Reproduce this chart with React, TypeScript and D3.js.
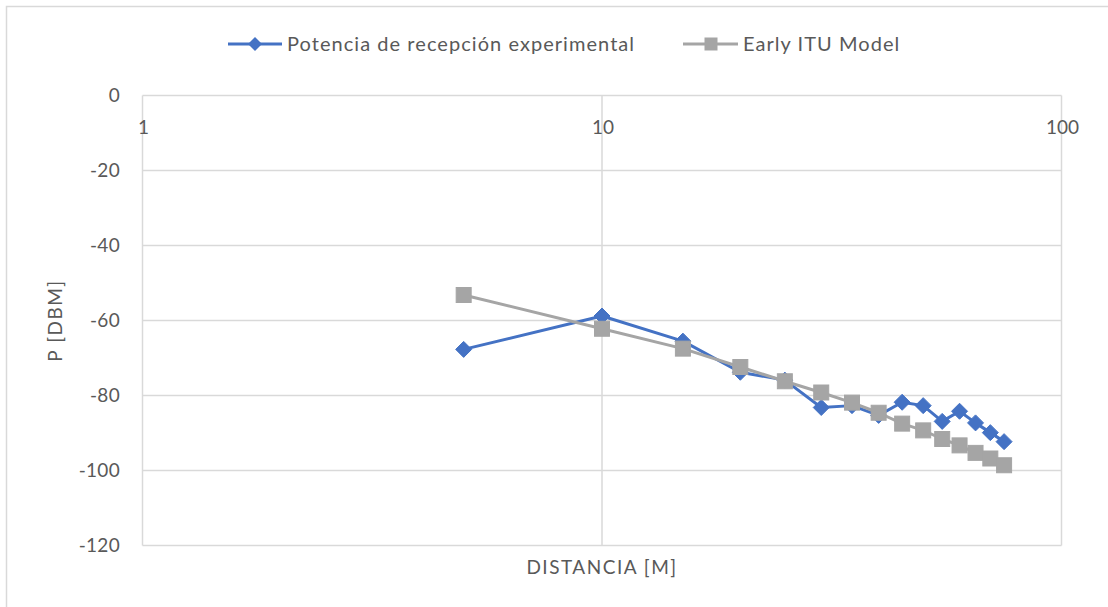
import React from 'react';
import * as d3 from 'd3';

// distances in metres
const distances = [5, 10, 15, 20, 25, 30, 35, 40, 45, 50, 55, 60, 65, 70, 75];
// measured received power (dBm)
const experimental = [-67.7, -58.8, -65.5, -73.8, -75.9, -83.2, -82.7, -85.3, -81.8, -82.7, -86.9, -84.2, -87.3, -89.9, -92.3];
// Early ITU Model prediction (dBm)
const earlyItu = [-53.2, -62.2, -67.5, -72.4, -76.2, -79.2, -81.9, -84.6, -87.5, -89.3, -91.6, -93.3, -95.3, -96.8, -98.6];

const xTicks = [1, 10, 100];
const yTicks = [0, -20, -40, -60, -80, -100, -120];

const seriesNames = ['Potencia de recepción experimental', 'Early ITU Model'];
const xTitle = 'DISTANCIA [M]';
const yTitle = 'P [DBM]';

const W = 1108;
const H = 607;
const FONT = 'Lato, "Liberation Sans", sans-serif';
const TEXT = '#595959';
const GRID = '#D9D9D9';
const BLUE = '#4472C4';
const GRAY = '#A5A5A5';

const App = () => {
  const x = d3.scaleLog().domain([1, 100]).range([142.5, 1061.5]);
  const y = d3.scaleLinear().domain([-120, 0]).range([545.5, 95.5]);

  const line = d3.line<number>()
    .x((_, i) => x(distances[i]))
    .y(d => y(d));

  const diamond = (cx: number, cy: number, r: number) =>
    `M${cx},${cy - r}L${cx + r},${cy}L${cx},${cy + r}L${cx - r},${cy}Z`;

  return (
    <svg width={W} height={H} style={{ position: 'absolute', left: 0, top: 0 }}>
      <rect x={0} y={0} width={W} height={H} fill="#fff" />
      <rect x={6.5} y={6.5} width={W + 20} height={H + 20} fill="none" stroke={GRID} strokeWidth={1.5} />

      {/* horizontal grid */}
      {yTicks.map(t => (
        <line key={'gy' + t} x1={x(1)} x2={x(100)} y1={y(t)} y2={y(t)} stroke={GRID} strokeWidth={1.5} />
      ))}
      {/* vertical grid */}
      {xTicks.map(t => (
        <line key={'gx' + t} x1={x(t)} x2={x(t)} y1={y(0)} y2={y(-120)} stroke={GRID} strokeWidth={1.5} />
      ))}

      {/* y tick labels */}
      {yTicks.map(t => (
        <text key={'ty' + t} x={120} y={y(t)} dy="0.35em" textAnchor="end"
          fontFamily={FONT} fontSize={19} fill={TEXT} letterSpacing={0.3}>{t}</text>
      ))}
      {/* x tick labels, axis crosses at 0 */}
      {xTicks.map(t => (
        <text key={'tx' + t} x={x(t) + 1} y={127} dy="0.35em" textAnchor="middle"
          fontFamily={FONT} fontSize={19} fill={TEXT}>{t}</text>
      ))}

      {/* axis titles */}
      <text x={602} y={567} dy="0.35em" textAnchor="middle" fontFamily={FONT} fontSize={19}
        fill={TEXT} letterSpacing={1.5}>{xTitle}</text>
      <text transform={`translate(55,${y(-60)}) rotate(-90)`} dy="0.35em" textAnchor="middle"
        fontFamily={FONT} fontSize={19} fill={TEXT} letterSpacing={1.5}>{yTitle}</text>

      {/* series */}
      <path d={line(experimental) || ''} fill="none" stroke={BLUE} strokeWidth={3} strokeLinejoin="round" />
      {experimental.map((v, i) => (
        <path key={'b' + i} d={diamond(x(distances[i]), y(v), 8)} fill={BLUE} stroke={BLUE} strokeWidth={1} />
      ))}
      <path d={line(earlyItu) || ''} fill="none" stroke={GRAY} strokeWidth={3} strokeLinejoin="round" />
      {earlyItu.map((v, i) => (
        <rect key={'g' + i} x={x(distances[i]) - 7.5} y={y(v) - 7.5} width={15} height={15}
          fill={GRAY} stroke={GRAY} strokeWidth={1} />
      ))}

      {/* legend */}
      <g>
        <line x1={228} x2={282} y1={44} y2={44} stroke={BLUE} strokeWidth={3} />
        <path d={diamond(255, 44, 7)} fill={BLUE} />
        <text x={287} y={44} dy="0.35em" fontFamily={FONT} fontSize={20} fill={TEXT}
          letterSpacing={1.05}>{seriesNames[0]}</text>
        <line x1={683} x2={738} y1={44} y2={44} stroke={GRAY} strokeWidth={3} />
        <rect x={704.5} y={37.5} width={13} height={13} fill={GRAY} />
        <text x={743} y={44} dy="0.35em" fontFamily={FONT} fontSize={20} fill={TEXT}
          letterSpacing={1.05}>{seriesNames[1]}</text>
      </g>
    </svg>
  );
};

export default App;
